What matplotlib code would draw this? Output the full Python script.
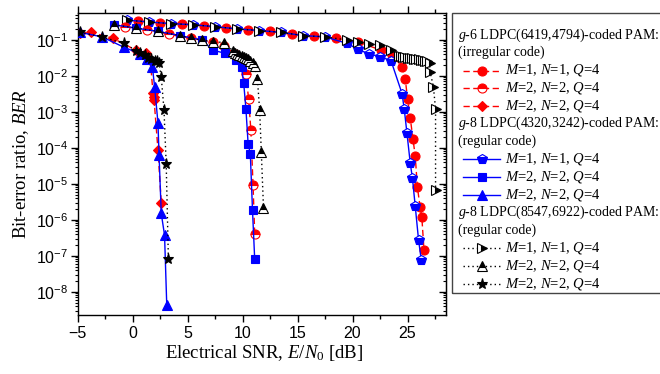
import matplotlib
matplotlib.use("Agg")
import matplotlib.pyplot as plt
from matplotlib.lines import Line2D
from matplotlib.patches import Rectangle
from matplotlib.ticker import LogLocator, FuncFormatter, MultipleLocator, NullFormatter
import numpy as np

plt.rcParams["font.family"] = ["Liberation Sans", "DejaVu Sans"]
plt.rcParams["mathtext.fontset"] = "custom"
plt.rcParams["mathtext.rm"] = "Liberation Serif"
plt.rcParams["mathtext.it"] = "Liberation Serif:italic"
plt.rcParams["mathtext.bf"] = "Liberation Serif:bold"

# ---------------- data ----------------
# g-6 LDPC(6419,4794), irregular code  (red, dashed)
irr_m1_x = [0.5, 2.5, 4.5, 6.5, 8.5, 10.5, 12.5, 14.5, 16.5, 18.5, 20.5, 22.6, 23.6,
            24.5, 24.8, 25.0, 25.25, 25.5, 25.7, 25.9, 26.15, 26.3, 26.5]
irr_m1_ber = [0.33, 0.30, 0.28, 0.24, 0.21, 0.19, 0.17, 0.14, 0.13, 0.11, 0.087, 0.051, 0.037,
              0.018, 7.9e-3, 2.3e-3, 6.6e-4, 1.7e-4, 5.9e-5, 7.9e-6, 2.2e-6, 1.2e-6, 1.4e-7]

irr_m2a_x = [-0.7, 1.3, 3.3, 5.3, 7.3, 8.3, 9.3, 9.8, 10.3, 10.55, 10.75, 10.95, 11.1]
irr_m2a_ber = [0.23, 0.19, 0.14, 0.11, 0.085, 0.068, 0.040, 0.028, 0.011, 2.2e-3, 3.1e-4,
               9.1e-6, 4.0e-7]

irr_m2b_x = [-4.8, -3.8, -1.8, 0.3, 1.2, 1.6, 1.85, 1.9, 1.95, 2.3, 2.6]
irr_m2b_ber = [0.15, 0.16, 0.11, 0.051, 0.042, 0.028, 3.3e-3, 2.6e-3, 2.1e-3, 8.7e-5, 3.0e-6]

# g-8 LDPC(4320,3242), regular code  (blue, solid)
reg1_m1_x = [-0.5, 1.5, 3.5, 5.5, 7.5, 9.5, 11.5, 13.5, 15.5, 17.5, 19.5, 20.5, 21.5, 22.5,
             23.5, 24.5, 24.7, 24.95, 25.25, 25.45, 25.7, 26.0, 26.25]
reg1_m1_ber = [0.35, 0.31, 0.28, 0.26, 0.23, 0.20, 0.18, 0.16, 0.13, 0.12, 0.079, 0.054, 0.040,
               0.034, 0.026, 3.2e-3, 1.2e-3, 2.5e-4, 3.7e-5, 1.4e-5, 2.4e-6, 2.8e-7, 7.6e-8]

reg1_m2a_x = [-1.7, 0.3, 2.3, 4.3, 6.3, 7.3, 8.4, 9.4, 9.9, 10.1, 10.3, 10.5, 10.7, 10.9, 11.1]
reg1_m2a_ber = [0.26, 0.21, 0.17, 0.13, 0.098, 0.051, 0.042, 0.028, 0.018, 6.2e-3, 1.2e-3,
                1.3e-4, 6.8e-5, 1.8e-6, 7.9e-8]

reg1_m2b_x = [-4.8, -2.8, -0.8, 0.7, 1.3, 1.8, 2.0, 2.3, 2.4, 2.6, 2.9, 3.1]
reg1_m2b_ber = [0.16, 0.12, 0.062, 0.040, 0.029, 0.017, 4.8e-3, 4.9e-4, 6.3e-5, 1.5e-6,
                3.7e-7, 4.3e-9]

# g-8 LDPC(8547,6922), regular code  (black, dotted)
reg2_m1_x = [-0.5, 1.5, 3.5, 5.5, 7.5, 9.5, 11.5, 13.5, 15.5, 17.5, 19.5, 20.5, 21.5, 22.5,
             23.5, 24.2, 24.4, 24.6, 24.8, 25.0, 25.2, 25.4, 25.6, 25.8, 26.0, 26.2, 26.4,
             26.6, 26.8, 27.0, 27.05, 27.35, 27.55, 27.55]
reg2_m1_ber = [0.35, 0.31, 0.28, 0.26, 0.23, 0.20, 0.18, 0.16, 0.13, 0.12, 0.098, 0.087, 0.076,
               0.071, 0.051, 0.035, 0.035, 0.034, 0.033, 0.032, 0.032, 0.031, 0.030, 0.030,
               0.029, 0.028, 0.028, 0.026, 0.025, 0.022, 0.013, 5.0e-3, 1.2e-3, 6.5e-6]

reg2_m2a_x = [-1.7, 0.3, 2.3, 4.3, 5.3, 6.3, 7.3, 8.3, 9.1, 9.3, 9.5, 9.7, 9.9, 10.1, 10.3,
              10.5, 10.7, 10.9, 11.1, 11.35, 11.55, 11.7, 11.9]
reg2_m2a_ber = [0.26, 0.21, 0.17, 0.13, 0.11, 0.098, 0.089, 0.083, 0.050, 0.044, 0.040, 0.037,
                0.035, 0.033, 0.031, 0.029, 0.026, 0.023, 0.019, 7.9e-3, 1.1e-3, 7.8e-5, 2.1e-6]

reg2_m2b_x = [-4.8, -2.8, -0.8, 0.3, 0.7, 1.1, 1.4, 1.7, 2.0, 2.2, 2.4, 2.6, 2.85, 3.05, 3.25]
reg2_m2b_ber = [0.16, 0.12, 0.079, 0.050, 0.044, 0.037, 0.032, 0.029, 0.026, 0.025, 0.022,
                9.3e-3, 1.1e-3, 3.5e-5, 7.9e-8]

group_titles = [("$g$-6 LDPC(6419,4794)-coded PAM:", "(irregular code)"),
                ("$g$-8 LDPC(4320,3242)-coded PAM:", "(regular code)"),
                ("$g$-8 LDPC(8547,6922)-coded PAM:", "(regular code)")]
entry_labels = ["$M$=1, $N$=1, $Q$=4", "$M$=2, $N$=2, $Q$=4", "$M$=2, $N$=2, $Q$=4"]

RED, BLUE, BLACK = "#ff0000", "#0000ff", "#000000"
red_ls = (0, (4.5, 2.5))
blk_ls = (0, (1.0, 2.2))

styles = [
    # irregular g-6
    dict(color=RED, ls=red_ls, marker="o", ms=6.5, mfc=RED, mec=RED),
    dict(color=RED, ls=red_ls, marker="o", ms=6.5, mfc=RED, mec=RED, fillstyle="top",
         mfcalt="white"),
    dict(color=RED, ls=red_ls, marker="D", ms=5.5, mfc=RED, mec=RED),
    # regular g-8 (4320)
    dict(color=BLUE, ls="-", marker="p", ms=7.5, mfc=BLUE, mec=BLUE, fillstyle="bottom",
         mfcalt="white"),
    dict(color=BLUE, ls="-", marker="s", ms=6.0, mfc=BLUE, mec=BLUE),
    dict(color=BLUE, ls="-", marker="^", ms=7.0, mfc=BLUE, mec=BLUE),
    # regular g-8 (8547)
    dict(color=BLACK, ls=blk_ls, marker=">", ms=7.0, mfc=BLACK, mec=BLACK, fillstyle="right",
         mfcalt="white"),
    dict(color=BLACK, ls=blk_ls, marker="^", ms=7.0, mfc=BLACK, mec=BLACK, fillstyle="top",
         mfcalt="white"),
    dict(color=BLACK, ls=blk_ls, marker="*", ms=8.0, mfc=BLACK, mec=BLACK),
]

series = [(irr_m1_x, irr_m1_ber), (irr_m2a_x, irr_m2a_ber), (irr_m2b_x, irr_m2b_ber),
          (reg1_m1_x, reg1_m1_ber), (reg1_m2a_x, reg1_m2a_ber), (reg1_m2b_x, reg1_m2b_ber),
          (reg2_m1_x, reg2_m1_ber), (reg2_m2a_x, reg2_m2a_ber), (reg2_m2b_x, reg2_m2b_ber)]


def line_kwargs(st):
    kw = dict(color=st["color"], linestyle=st["ls"], linewidth=1.0, marker=st["marker"],
              markersize=st["ms"], markerfacecolor=st["mfc"], markeredgecolor=st["mec"],
              markeredgewidth=0.8)
    if "fillstyle" in st:
        kw["fillstyle"] = st["fillstyle"]
        kw["markerfacecoloralt"] = st["mfcalt"]
    return kw


# ---------------- figure ----------------
W, H = 660, 374
fig = plt.figure(figsize=(W / 100, H / 100), dpi=100)
ax = fig.add_axes([77.7 / W, 1 - 315 / H, (446 - 77.7) / W, (315 - 12.7) / H])

draw_order = [0, 3, 6, 1, 4, 7, 2, 5, 8]
for i in draw_order:
    x, y = series[i]
    ax.plot(x, y, **line_kwargs(styles[i]), zorder=3)

ax.set_yscale("log")
ax.set_xlim(-5, 28.5)
ax.set_ylim(2.25e-9, 0.5623)

ax.xaxis.set_major_locator(MultipleLocator(5))
ax.xaxis.set_minor_locator(MultipleLocator(2.5))
ax.yaxis.set_major_locator(LogLocator(base=10, numticks=20))
ax.yaxis.set_minor_locator(LogLocator(base=10, subs=np.arange(2, 10), numticks=20))
ax.yaxis.set_minor_formatter(NullFormatter())
ax.yaxis.set_major_formatter(
    FuncFormatter(lambda v, p: r"$\mathregular{10^{%d}}$" % int(round(np.log10(v)))))

for sp in ax.spines.values():
    sp.set_linewidth(1.0)

ax.tick_params(axis="x", which="major", direction="out", length=5, width=1.0,
               top=True, labelsize=11.5, pad=3)
ax.tick_params(axis="x", which="minor", direction="out", length=3, width=1.0, top=True)
ax.tick_params(axis="y", which="major", direction="out", length=5, width=1.0,
               labelsize=11.5, pad=2)
ax.tick_params(axis="y", which="minor", direction="out", length=2.5, width=0.8)

# inward ticks on the right-hand spine
sec = ax.secondary_yaxis("right")
sec.tick_params(axis="y", which="major", direction="in", length=5, width=1.0, labelright=False)
sec.tick_params(axis="y", which="minor", direction="in", length=2.5, width=0.8)
sec.yaxis.set_minor_locator(LogLocator(base=10, subs=np.arange(2, 10), numticks=20))
sec.yaxis.set_major_formatter(NullFormatter())
sec.yaxis.set_minor_formatter(NullFormatter())

ax.set_xlabel("Electrical SNR, $E/N_0$ [dB]", fontfamily="Liberation Serif", fontsize=13.5,
              va="center")
ax.xaxis.set_label_coords(0.505, (315 - 353) / (315 - 12.7))
ax.set_ylabel("Bit-error ratio, $BER$", fontfamily="Liberation Serif", fontsize=13.5,
              va="center", ha="center")
ax.yaxis.set_label_coords((21 - 77.7) / (446 - 77.7), 0.5)

# ---------------- legend panel ----------------
def fx(px):
    return px / W


def fy(py):
    return 1 - py / H


box = Rectangle((fx(451.7), fy(292.7)), fx(700) - fx(451.7), fy(12.7) - fy(292.7),
                transform=fig.transFigure, fill=False, edgecolor="#444444", linewidth=1.0)
fig.add_artist(box)

row_h = 17.75
row = 0
y0 = 35.0
for g in range(3):
    for t in group_titles[g]:
        fig.text(fx(458.5), fy(y0 + row * row_h), t, fontfamily="Liberation Serif",
                 fontsize=10, va="center", ha="left")
        row += 1
    for k in range(3):
        st = styles[3 * g + k]
        yy = fy(y0 + row * row_h)
        fig.add_artist(Line2D([fx(462.5), fx(500)], [yy, yy], transform=fig.transFigure,
                              color=st["color"], linestyle=st["ls"], linewidth=1.0))
        mk = line_kwargs(st)
        mk["linestyle"] = "none"
        fig.add_artist(Line2D([fx(482)], [yy], transform=fig.transFigure, **mk))
        fig.text(fx(505), yy, entry_labels[k], fontfamily="Liberation Serif", fontsize=10.5,
                 va="center", ha="left")
        row += 1

fig.savefig("out.png", dpi=100)
